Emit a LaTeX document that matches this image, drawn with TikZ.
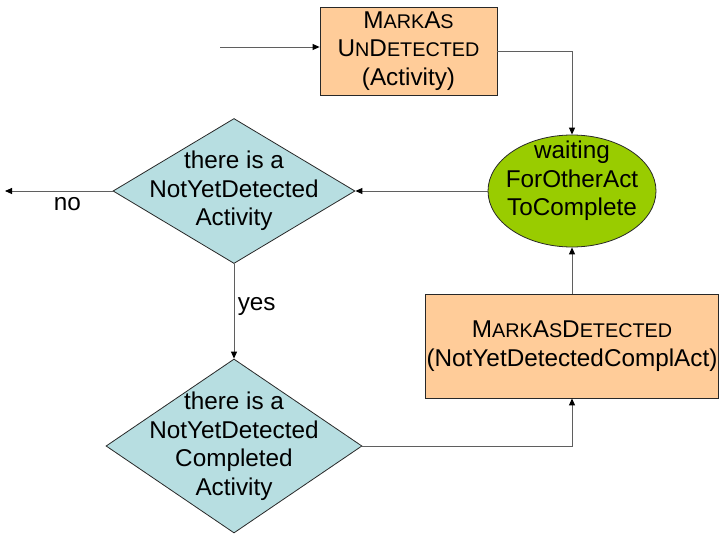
\documentclass[tikz,border=0pt]{standalone}
\usepackage{fontspec}
\setmainfont{Liberation Sans}
\usepackage{tikz}
\usetikzlibrary{shapes.geometric, arrows.meta, positioning}
\definecolor{mypeach}{RGB}{255,204,153}
\definecolor{myaqua}{RGB}{183,222,225}
\definecolor{mygreen}{RGB}{153,204,0}
\definecolor{mydark}{RGB}{40,40,40}
\definecolor{myline}{RGB}{95,95,95}
\newcommand{\mainfnt}{\fontsize{24.3}{28.5}\selectfont}
\newcommand{\smc}[1]{{\fontsize{19.8}{28.5}\selectfont #1}}
\tikzset{
  actbox/.style={rectangle, draw=mydark, fill=mypeach,
    align=center, inner sep=1pt, line width=0.8pt, font=\mainfnt},
  decision/.style={diamond, draw=mydark, fill=myaqua,
    inner sep=0pt, line width=0.8pt},
  waitstate/.style={ellipse, draw=mydark, fill=mygreen,
    inner sep=0pt, line width=0.8pt},
  inlabel/.style={align=center, font=\mainfnt, text=black},
  arrow/.style={-{Triangle[length=7pt, width=6pt, black]}, color=myline, line width=0.9pt},
  line/.style={color=myline, line width=0.9pt}
}

\begin{document}
\begin{tikzpicture}[x=1pt, y=-1pt]
  \useasboundingbox (0,0) rectangle (719,535);

  % Activity boxes
  \node[actbox, minimum width=177pt, minimum height=88pt] (undet) at (408.5,51)
    {M\smc{ARK}A\smc{S}\\U\smc{N}D\smc{ETECTED}\\(Activity)};
  \node[actbox, minimum width=292pt, minimum height=104pt] (det) at (572,346)
    {M\smc{ARK}A\smc{S}D\smc{ETECTED}\\(NotYetDetectedComplAct)};

  % Waiting state
  \node[waitstate, minimum width=168pt, minimum height=112pt,
    label={[inlabel, yshift=10pt]center:waiting\\ForOtherAct\\ToComplete}] (wait) at (572,191) {};

  % Decisions
  \node[decision, minimum width=242pt, minimum height=145pt,
    label={[inlabel]center:there is a\\NotYetDetected\\Activity}] (findact) at (234,191) {};
  \node[decision, minimum width=256pt, minimum height=174pt,
    label={[inlabel]center:there is a\\NotYetDetected\\Completed\\Activity}] (findcompl) at (234,446) {};

  % Free ends
  \coordinate (entry) at (220,47);
  \coordinate (exitno) at (5,191);

  % Connectors
  \draw[arrow] (entry) -- (entry -| undet.west);
  \draw[arrow] (undet.east) -| (wait.north);
  \draw[arrow] (wait.west) -- (findact.east);
  \draw[arrow] (findact.west) -- node[inlabel, below, pos=0.42, yshift=-3pt] {no} (exitno);
  \draw[arrow] (findact.south) -- node[inlabel, right, pos=0.45] {yes} (findcompl.north);
  \draw[arrow] (findcompl.east) -| (det.south);
  \draw[arrow] (det.north) -- (wait.south);
\end{tikzpicture}
\end{document}
